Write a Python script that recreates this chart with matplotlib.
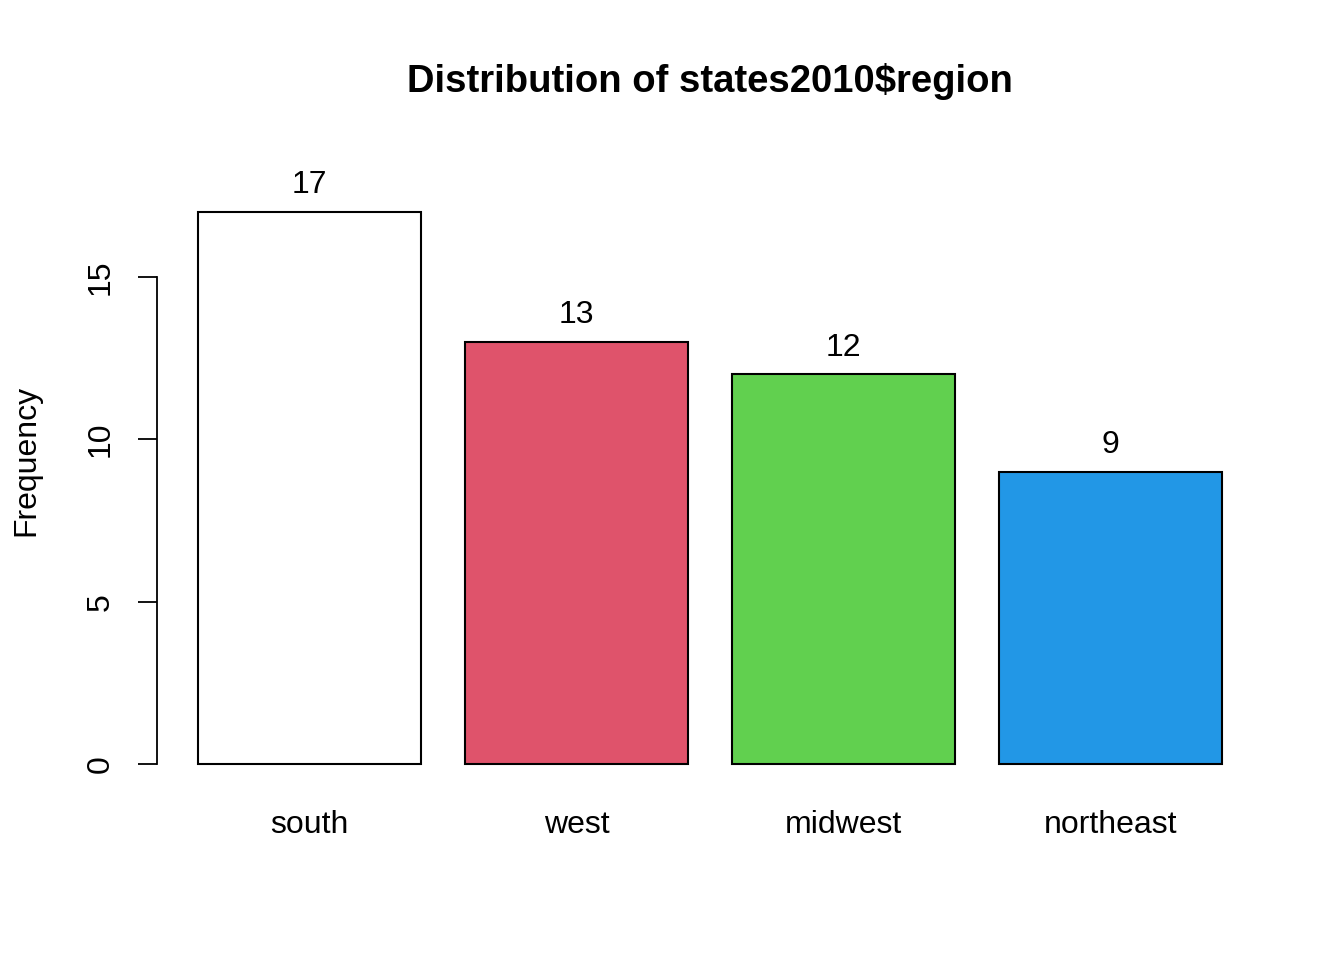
import matplotlib
matplotlib.use("Agg")
import matplotlib.pyplot as plt
import matplotlib.transforms as mtransforms

plt.rcParams['font.family'] = ['Liberation Sans', 'DejaVu Sans']

categories = ["south", "west", "midwest", "northeast"]
counts = [17, 13, 12, 9]
colors = ["#FFFFFF", "#DF536B", "#61D04F", "#2297E6"]
yticks = [0, 5, 10, 15]

W, H = 1344, 960
fig = plt.figure(figsize=(W / 100, H / 100), dpi=100)

left, right, top, bottom = 157, 1263, 132.5, 788.3
ax = fig.add_axes([left / W, (H - bottom) / H, (right - left) / W, (bottom - top) / H])

width = 1.0
space = 0.2
xs = [space + i * (width + space) + width / 2 for i in range(len(counts))]
ax.bar(xs, counts, width=width, color=colors, edgecolor="black", linewidth=1.5)

ymax = max(counts) * 1.1
ax.set_ylim(-0.04 * ymax, ymax * 1.04)
xl, xr = space, space + len(counts) * (width + space) - space
pad = 0.04 * (xr - xl)
ax.set_xlim(xl - pad, xr + pad)

fs = 23

for s in ["top", "right", "bottom"]:
    ax.spines[s].set_visible(False)
ax.spines["left"].set_bounds(yticks[0], yticks[-1])
ax.spines["left"].set_linewidth(1.3)
ax.set_yticks(yticks)
ax.set_yticklabels([str(t) for t in yticks], rotation=90, va="center", fontsize=fs)
ax.tick_params(axis="y", length=13.5, width=1.3, pad=16)
ax.set_xticks([])

for x, c in zip(xs, counts):
    ax.annotate(str(c), (x, c), xytext=(0, 26.5 * 0.72), textcoords="offset points",
                ha="center", va="center", fontsize=fs, clip_on=False)

trans = mtransforms.blended_transform_factory(ax.transData, ax.transAxes)
for x, lab in zip(xs, categories):
    ax.text(x, -(825 - bottom) / (bottom - top), lab, transform=trans,
            ha="center", va="center", fontsize=fs)

fig.text(26 / W, 1 - 460 / H, "Frequency", rotation=90, ha="center", va="center", fontsize=fs)
fig.text((left + right) / 2 / W, 1 - 81 / H, "Distribution of states2010$region",
         ha="center", va="center", fontsize=27.5, fontweight="bold")

fig.savefig("out.png", dpi=100)
